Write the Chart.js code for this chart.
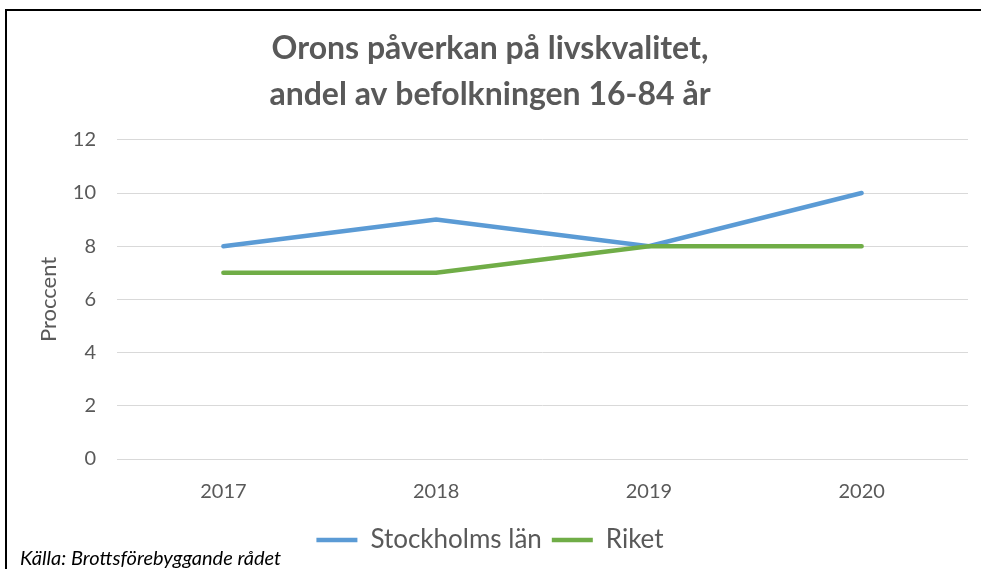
<!DOCTYPE html>
<html>
<head>
<meta charset="utf-8">
<script src="https://cdn.jsdelivr.net/npm/chart.js@4"></script>
<style>
  html, body { margin:0; padding:0; background:#fff; }
  #wrap { position:relative; width:981px; height:569px; overflow:hidden; }
  #frame { position:absolute; left:5px; top:9px; width:990px; height:600px;
           border-left:2px solid #000; border-top:2px solid #000; }
  #source { position:absolute; left:20px; top:545px; font-family:Lato, "Open Sans", sans-serif;
            font-style:italic; font-size:20px; color:#000; }
  canvas { position:absolute; left:0; top:0; }
</style>
</head>
<body>
<div id="wrap">
  <canvas id="chart" width="981" height="569"></canvas>
  <div id="frame"></div>
  <div id="source">Källa: Brottsförebyggande rådet</div>
</div>
<script>
// data
const years = ['2017', '2018', '2019', '2020'];
const stockholm = [8, 9, 8, 10];
const riket = [7, 7, 8, 8];
const titleLines = ['Orons påverkan på livskvalitet,', 'andel av befolkningen 16-84 år'];

const FONT = 'Lato, "Open Sans", sans-serif';
const GREY = '#595959';

const ctx = document.getElementById('chart').getContext('2d');
new Chart(ctx, {
  type: 'line',
  data: {
    labels: years,
    datasets: [
      { label:'Stockholms län', data:stockholm, borderColor:'#5B9BD5', backgroundColor:'#5B9BD5',
        borderWidth:4.5, pointRadius:0, tension:0, borderCapStyle:'round', order:2 },
      { label:'Riket', data:riket, borderColor:'#70AD47', backgroundColor:'#70AD47',
        borderWidth:4.5, pointRadius:0, tension:0, borderCapStyle:'round', order:1 },
    ]
  },
  options: {
    responsive:false, animation:false,
    layout:{ padding:{ left:12, right:13, top:8, bottom:6 } },
    plugins:{
      title:{ display:true, text:titleLines, color:GREY,
        font:{ family:FONT, size:32, weight:'bold', lineHeight:1.45 },
        padding:{ top:17, bottom:22 } },
      legend:{ position:'bottom',
        labels:{ usePointStyle:true, pointStyle:'line', pointStyleWidth:41,
          sort:(a, b) => a.datasetIndex - b.datasetIndex,
          color:GREY, font:{ family:FONT, size:26 }, padding:10 } },
      tooltip:{ enabled:false }
    },
    scales:{
      x:{ offset:true,
        grid:{ display:false }, border:{ display:false },
        ticks:{ color:GREY, font:{ family:FONT, size:20 }, padding:13 } },
      y:{ min:0, max:12,
        grid:{ color:'#d9d9d9', lineWidth:1, drawTicks:false }, border:{ display:false },
        ticks:{ stepSize:2, color:GREY, font:{ family:FONT, size:20 }, padding:21 },
        title:{ display:true, text:'Proccent', color:GREY, font:{ family:FONT, size:22 }, padding:{ top:24, bottom:0 } },
        afterFit(scale){ scale.width = 105; } }
    }
  }
});
</script>
</body>
</html>
